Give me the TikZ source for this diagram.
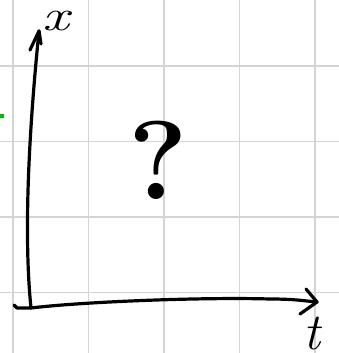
\documentclass[tikz,border=0pt]{standalone}
\begin{document}
\begin{tikzpicture}[x=1pt,y=-1pt,
  gridline/.style={draw=black!17,line width=1.4pt},
  axisline/.style={draw=black,line width=3.2pt,line cap=round,line join=round},
  lbl/.style={inner sep=0pt,text=black}]
\useasboundingbox (0,0) rectangle (339,353);
\fill[white] (0,0) rectangle (339,353);
% grid
\foreach \gx in {13,88.5,164,239.5,315} \draw[gridline] (\gx,0) -- (\gx,353);
\foreach \gy in {66,141.5,217,292.5} \draw[gridline] (0,\gy) -- (339,\gy);
% green mark
\fill[green!75!black] (0,114) rectangle (4,117.5);
% axes
\coordinate (o) at (31,308);
\coordinate (xtip) at (39,31);
\coordinate (ttip) at (317,302);
\draw[axisline] (o) .. controls (25,250) and (26,160) .. (xtip);
\draw[axisline] (30,50) -- (xtip) -- (41,44);
\draw[axisline] (14,305) -- (17,308) -- (o) .. controls (80,302) and (200,297) .. (270,299) .. controls (295,299) and (305,301) .. (ttip);
\draw[axisline] (306,289) -- (ttip) -- (300,314);
% labels
\node[lbl,anchor=center] (xl) at (56,21) {\fontsize{44}{44}\selectfont\scalebox{1.35}[1]{\itshape x}};
\node[lbl,anchor=center] (tl) at (312,334) {\fontsize{52}{52}\selectfont\itshape t};
\node[lbl,anchor=center] (q) at (158,160) {\fontsize{112}{112}\selectfont\bfseries ?};
\end{tikzpicture}
\end{document}
